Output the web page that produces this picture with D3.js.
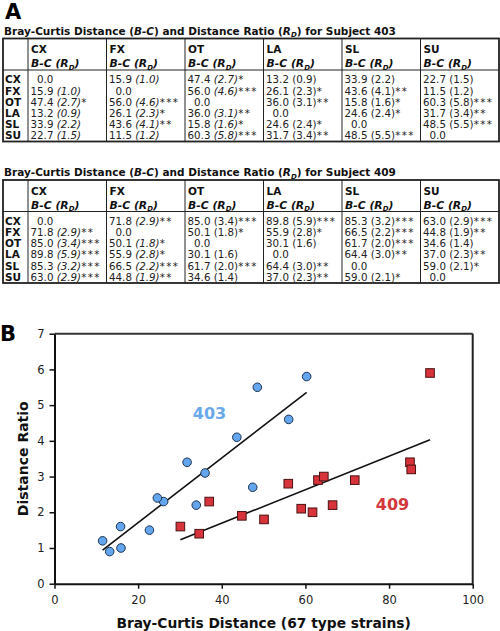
<!DOCTYPE html>
<html><head><meta charset="utf-8">
<script src="https://cdn.jsdelivr.net/npm/d3@7"></script>
<style>body{margin:0;background:#fff}svg{display:block}</style>
</head><body>
<svg id="c" width="500" height="631"></svg>
<script>
// ---------------- DATA ----------------
const sites = ["CX","FX","OT","LA","SL","SU"];
const subjects = ["403","409"];
// Bray-Curtis distances (rows/cols: CX,FX,OT,LA,SL,SU)
const bc403 = [
 [0.0,15.9,47.4,13.2,33.9,22.7],
 [15.9,0.0,56.0,26.1,43.6,11.5],
 [47.4,56.0,0.0,36.0,15.8,60.3],
 [13.2,26.1,36.0,0.0,24.6,31.7],
 [33.9,43.6,15.8,24.6,0.0,48.5],
 [22.7,11.5,60.3,31.7,48.5,0.0]];
const rd403 = [
 [null,1.0,2.7,0.9,2.2,1.5],
 [1.0,null,4.6,2.3,4.1,1.2],
 [2.7,4.6,null,3.1,1.6,5.8],
 [0.9,2.3,3.1,null,2.4,3.4],
 [2.2,4.1,1.6,2.4,null,5.5],
 [1.5,1.2,5.8,3.4,5.5,null]];
const sig403 = [
 [0,0,1,0,0,0],
 [0,0,3,1,2,0],
 [1,3,0,2,1,3],
 [0,1,2,0,1,2],
 [0,2,1,1,0,3],
 [0,0,3,2,3,0]];
const italicCols403 = [0,1,2];
const bc409 = [
 [0.0,71.8,85.0,89.8,85.3,63.0],
 [71.8,0.0,50.1,55.9,66.5,44.8],
 [85.0,50.1,0.0,30.1,61.7,34.6],
 [89.8,55.9,30.1,0.0,64.4,37.0],
 [85.3,66.5,61.7,64.4,0.0,59.0],
 [63.0,44.8,34.6,37.0,59.0,0.0]];
const rd409 = [
 [null,2.9,3.4,5.9,3.2,2.9],
 [2.9,null,1.8,2.8,2.2,1.9],
 [3.4,1.8,null,1.6,2.0,1.4],
 [5.9,2.8,1.6,null,3.0,2.3],
 [3.2,2.2,2.0,3.0,null,2.1],
 [2.9,1.9,1.4,2.3,2.1,null]];
const sig409 = [
 [0,2,3,3,3,3],
 [2,0,1,1,3,2],
 [3,1,0,0,3,0],
 [3,1,0,0,2,2],
 [3,3,3,2,0,1],
 [3,2,0,2,1,0]];
const italicCols409 = [0,1];
// regression line endpoints [x, y]
const fit403 = [[11.5,0.94],[60.3,5.36]];
const fit409 = [[30.1,1.23],[89.8,4.03]];
const xTicks = [0,20,40,60,80,100];
const yTicks = [0,1,2,3,4,5,6,7];

// ---------------- DRAW ----------------
const svg = d3.select("#c");
const FONT = "'DejaVu Sans', Verdana, sans-serif";
const tables = [
  {subj:"403", bc:bc403, rd:rd403, sig:sig403, ital:italicCols403, top:38.5},
  {subj:"409", bc:bc409, rd:rd409, sig:sig409, ital:italicCols409, top:180}
];

svg.append("text").attr("x",5).attr("y",18.5).attr("font-family",FONT)
  .attr("font-weight","bold").attr("font-size",21).attr("fill","#000").text("A");

const colX = d3.scaleBand().domain(d3.range(6)).range([28,499]);
const rowY = d3.scaleLinear().domain([0,5]);

tables.forEach(t => {
  const g = svg.append("g");
  // title
  const ti = g.append("text").attr("x",4).attr("y",t.top-4).attr("font-family",FONT)
    .attr("font-weight","bold").attr("font-size",10.5).attr("fill","#111");
  ti.append("tspan").text("Bray-Curtis Distance (");
  ti.append("tspan").attr("font-style","italic").text("B-C");
  ti.append("tspan").text(") and Distance Ratio (");
  ti.append("tspan").attr("font-style","italic").text("R");
  ti.append("tspan").attr("font-style","italic").attr("font-size",7).attr("dy",2.5).text("D");
  ti.append("tspan").attr("dy",-2.5).text(") for Subject " + t.subj);

  const top = t.top, sep = top + 31.5, bottom = sep + 71.5;
  rowY.range([sep + 9.7, sep + 9.7 + 55.75]);
  // lines
  g.append("line").attr("x1",3).attr("x2",499).attr("y1",sep).attr("y2",sep)
    .attr("stroke","#222").attr("stroke-width",1);
  d3.range(6).forEach(i => {
    g.append("line").attr("x1",colX(i)).attr("x2",colX(i)).attr("y1",top).attr("y2",bottom)
      .attr("stroke","#222").attr("stroke-width",1);
  });
  g.append("rect").attr("x",3).attr("y",top).attr("width",496).attr("height",bottom-top)
    .attr("fill","none").attr("stroke","#222").attr("stroke-width",1.8);
  // column headers
  sites.forEach((s,i) => {
    g.append("text").attr("x",colX(i)+3).attr("y",top+14.5).attr("font-family",FONT)
      .attr("font-weight","bold").attr("font-size",10.5).attr("fill","#111").text(s);
    const h = g.append("text").attr("x",colX(i)+3).attr("y",top+28.5).attr("font-family",FONT)
      .attr("font-weight","bold").attr("font-style","italic").attr("font-size",10.8).attr("fill","#111");
    h.append("tspan").text("B-C (R");
    h.append("tspan").attr("font-size",7).attr("dy",2.5).text("D");
    h.append("tspan").attr("dy",-2.5).text(")");
  });
  // rows
  sites.forEach((s,r) => {
    const y = rowY(r) + 3.7;
    g.append("text").attr("x",5).attr("y",y).attr("font-family",FONT)
      .attr("font-weight","bold").attr("font-size",10.5).attr("fill","#111").text(s);
    sites.forEach((c,ci) => {
      const tx = g.append("text").attr("y",y).attr("font-family",FONT)
        .attr("font-size",10.3).attr("fill","#222");
      if (r === ci) {
        tx.attr("x",colX(ci)+9).text(d3.format(".1f")(t.bc[r][ci]));
      } else {
        tx.attr("x",colX(ci)+2.5);
        tx.append("tspan").text(d3.format(".1f")(t.bc[r][ci]) + " ");
        tx.append("tspan").attr("font-style", t.ital.includes(ci) ? "italic" : "normal")
          .text("(" + d3.format(".1f")(t.rd[r][ci]) + ")");
        if (t.sig[r][ci] > 0) tx.append("tspan").attr("letter-spacing",1.4).text("*".repeat(t.sig[r][ci]));
      }
    });
  });
});

// ---------------- SCATTER ----------------
const x = d3.scaleLinear().domain([0,100]).range([54.5,472.7]);
const y = d3.scaleLinear().domain([0,7]).range([583.7,333.7]);

svg.append("text").attr("x",0).attr("y",341).attr("font-family",FONT)
  .attr("font-weight","bold").attr("font-size",21).attr("fill","#000").text("B");

// frame top and right
svg.append("line").attr("x1",x(0)).attr("x2",x(100)).attr("y1",y(7)).attr("y2",y(7))
  .attr("stroke","#333").attr("stroke-width",2);
svg.append("line").attr("x1",x(100)).attr("x2",x(100)).attr("y1",y(7)).attr("y2",y(0))
  .attr("stroke","#222").attr("stroke-width",2);

const xAxis = svg.append("g").attr("transform",`translate(0,${y(0)})`)
  .call(d3.axisBottom(x).tickValues(xTicks).tickFormat(d3.format("d")).tickSize(5).tickPadding(7).tickSizeOuter(0));
const yAxis = svg.append("g").attr("transform",`translate(${x(0)},0)`)
  .call(d3.axisLeft(y).tickValues(yTicks).tickFormat(d3.format("d")).tickSize(5).tickPadding(5).tickSizeOuter(0));
[xAxis,yAxis].forEach(a => {
  a.select(".domain").attr("stroke","#111").attr("stroke-width",2);
  a.selectAll(".tick line").attr("stroke","#111").attr("stroke-width",1.5);
  a.selectAll(".tick text").attr("font-family",FONT).attr("font-size",11.5).attr("fill","#222");
});

svg.append("text").attr("x",(x(0)+x(100))/2).attr("y",627.5).attr("text-anchor","middle")
  .attr("font-family",FONT).attr("font-weight","bold").attr("font-size",13.8).attr("fill","#111")
  .text("Bray-Curtis Distance (67 type strains)");
svg.append("text").attr("transform",`translate(27.5,${(y(0)+y(7))/2}) rotate(-90)`)
  .attr("text-anchor","middle").attr("font-family",FONT).attr("font-weight","bold")
  .attr("font-size",14).attr("fill","#111").text("Distance Ratio");

// points from upper triangles
function pairs(bc, rd){
  const out=[];
  for(let i=0;i<6;i++) for(let j=i+1;j<6;j++) out.push({x:bc[i][j], y:rd[i][j]});
  return out;
}
const pts403 = pairs(bc403, rd403), pts409 = pairs(bc409, rd409);

const line = d3.line().x(d=>x(d[0])).y(d=>y(d[1]));
svg.append("path").attr("d",line(fit403)).attr("stroke","#111").attr("stroke-width",1.6).attr("fill","none");
svg.append("path").attr("d",line(fit409)).attr("stroke","#111").attr("stroke-width",1.6).attr("fill","none");

svg.append("g").selectAll("rect").data(pts409).join("rect")
  .attr("x",d=>x(d.x)-4.3).attr("y",d=>y(d.y)-4.3).attr("width",8.6).attr("height",8.6)
  .attr("fill","#d8323a").attr("stroke","#4a1212").attr("stroke-width",1);
svg.append("g").selectAll("circle").data(pts403).join("circle")
  .attr("cx",d=>x(d.x)).attr("cy",d=>y(d.y)).attr("r",4.3)
  .attr("fill","#64a6ee").attr("stroke","#1d3450").attr("stroke-width",1);

svg.append("text").attr("x",209.5).attr("y",418.5).attr("text-anchor","middle")
  .attr("font-family",FONT).attr("font-weight","bold").attr("font-size",16).attr("fill","#6aa8ec").text("403");
svg.append("text").attr("x",392.5).attr("y",510).attr("text-anchor","middle")
  .attr("font-family",FONT).attr("font-weight","bold").attr("font-size",16).attr("fill","#d3373b").text("409");
</script>
</body></html>
